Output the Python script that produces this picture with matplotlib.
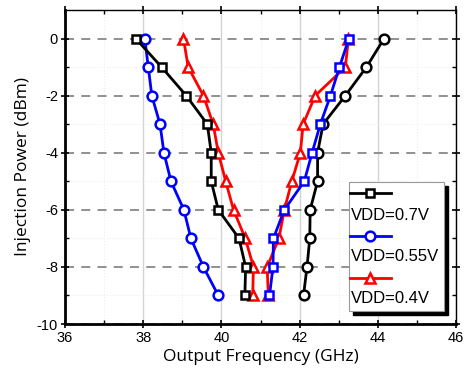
import matplotlib
matplotlib.use("Agg")
import matplotlib.pyplot as plt
from matplotlib.lines import Line2D
from matplotlib.patches import Rectangle

# Data
power = [0, -1, -2, -3, -4, -5, -6, -7, -8, -9]
# VDD=0.7V
f07_left = [37.81, 38.47, 39.10, 39.64, 39.74, 39.74, 39.92, 40.45, 40.62, 40.60]
f07_right = [44.16, 43.71, 43.17, 42.60, 42.46, 42.46, 42.27, 42.26, 42.19, 42.10]
# VDD=0.55V
f055_left = [38.04, 38.13, 38.22, 38.43, 38.53, 38.71, 39.04, 39.22, 39.54, 39.92]
f055_right = [43.26, 43.02, 42.79, 42.53, 42.32, 42.12, 41.61, 41.33, 41.32, 41.23]
# VDD=0.4V
f04_left = [39.03, 39.15, 39.54, 39.79, 39.92, 40.11, 40.31, 40.61, 40.82, 40.80]
f04_right = [43.25, 43.17, 42.40, 42.09, 42.02, 41.80, 41.61, 41.47, 41.17, 41.20]

labels = ["VDD=0.7V", "VDD=0.55V", "VDD=0.4V"]
xticks = [36, 38, 40, 42, 44, 46]
yticks = [0, -2, -4, -6, -8, -10]

fig = plt.figure(figsize=(4.71, 3.77), dpi=100)
ax = fig.add_axes([65/471, 1-324/377, (456-65)/471, (324-10)/377])

kw = dict(lw=2, mfc='white', mew=1.8, ms=7, zorder=3)
ax.plot(f055_left, power, color='blue', marker='o', **kw)
ax.plot(f07_right, power, color='black', marker='o', **kw)
ax.plot(f04_left, power, color='red', marker='^', **kw)
ax.plot(f04_right, power, color='red', marker='^', **kw)
ax.plot(f07_left, power, color='black', marker='s', **{**kw, 'ms': 6})
ax.plot(f055_right, power, color='blue', marker='s', **{**kw, 'ms': 6})

ax.set_xlim(36, 46)
ax.set_ylim(-10, 1)
ax.set_xticks(xticks)
ax.set_yticks(yticks)
ax.set_xticks([37, 39, 41, 43, 45], minor=True)
ax.set_yticks([-1, -3, -5, -7, -9], minor=True)

tfont = dict(family='Liberation Sans', size=10.5)
ax.set_xticklabels([str(t) for t in xticks], **tfont)
ax.set_yticklabels([str(t) for t in yticks], **tfont)

ax.grid(axis='x', which='major', color='#d4d4d4', lw=1, ls='-', zorder=0)
ax.grid(axis='x', which='minor', color='#eeeeee', lw=0.8, ls=':', zorder=0)
ax.grid(axis='y', which='major', color='#888888', lw=1.3, ls=(0, (5, 4)), zorder=0)
ax.grid(axis='y', which='minor', color='#eeeeee', lw=0.8, ls=':', zorder=0)

ax.tick_params(which='major', direction='inout', length=6, width=1.2, top=True, right=True, pad=2)
ax.tick_params(which='minor', direction='in', length=3, width=1, top=True, right=True)
for s in ['left', 'bottom']:
    ax.spines[s].set_linewidth(2)
for s in ['top', 'right']:
    ax.spines[s].set_linewidth(1)

lfont = dict(family='Open Sans', size=12.5)
ax.set_xlabel("Output Frequency (GHz)", labelpad=3, **lfont)
ax.set_ylabel("Injection Power (dBm)", labelpad=4, **lfont)

# Legend (Origin style)
x0, x1, y0, y1 = 0.726, 0.969, 0.041, 0.452
shx, shy = 0.010, 0.012
ax.add_patch(Rectangle((x0 + shx, y0 - shy), x1 - x0, y1 - y0, transform=ax.transAxes,
                       facecolor='black', edgecolor='black', zorder=9, clip_on=False))
ax.add_patch(Rectangle((x0, y0), x1 - x0, y1 - y0, transform=ax.transAxes,
                       facecolor='white', edgecolor='#999999', lw=0.8, zorder=10, clip_on=False))
handle_y = [0.416, 0.281, 0.145]
text_y = [0.345, 0.214, 0.080]
styles = [('black', 's', 6), ('blue', 'o', 7), ('red', '^', 7)]
for (c, m, ms), hy, ty, lab in zip(styles, handle_y, text_y, labels):
    ax.add_line(Line2D([0.729, 0.833], [hy, hy], transform=ax.transAxes, color=c, lw=2,
                       zorder=11, clip_on=False))
    ax.add_line(Line2D([0.781], [hy], transform=ax.transAxes, color=c, marker=m, ms=ms,
                       mfc='white', mew=1.8, zorder=12, clip_on=False))
    ax.text(0.731, ty, lab, transform=ax.transAxes, va='center', ha='left', zorder=12,
            family='Liberation Sans', size=12)

fig.savefig("out.png", dpi=100)
